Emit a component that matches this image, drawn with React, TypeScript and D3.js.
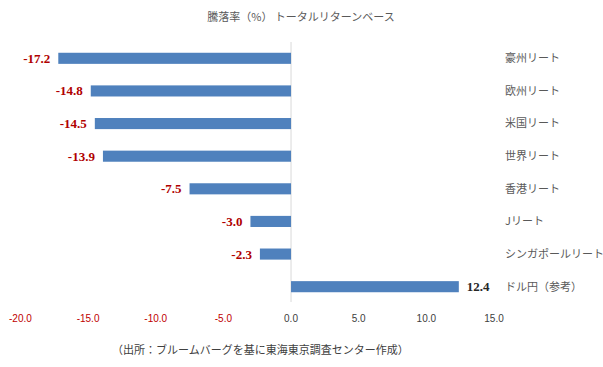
import React from "react";
import * as d3 from "d3";

const categories = ["豪州リート", "欧州リート", "米国リート", "世界リート", "香港リート", "Jリート", "シンガポールリート", "ドル円（参考）"];
const values = [-17.2, -14.8, -14.5, -13.9, -7.5, -3.0, -2.3, 12.4];
const ticks = [-20, -15, -10, -5, 0, 5, 10, 15];
const title = "騰落率（%） トータルリターンベース";
const source = "（出所：ブルームバーグを基に東海東京調査センター作成）";

const W = 603;
const H = 367;
const jp = "'Noto Sans CJK JP', 'Noto Sans', sans-serif";
const serif = "'Liberation Serif', 'Times New Roman', serif";

export default function App() {
  const x = d3.scaleLinear().domain([-20, 15]).range([20.4, 494]);
  const y = d3.scaleBand<string>().domain(categories).range([42, 303]).paddingInner(0.66).paddingOuter(0.33);
  const x0 = x(0);
  return (
    <svg width={W} height={H} style={{ position: "absolute", left: 0, top: 0, background: "#fff" }}>
      <text x={301} y={21} textAnchor="middle" fontFamily={jp} fontSize={11} fill="#595959">{title}</text>
      <line x1={x0} x2={x0} y1={42} y2={302} stroke="#d9d9d9" strokeWidth={1} />
      {categories.map((c, i) => {
        const v = values[i];
        const by = y(c)!;
        const bh = y.bandwidth();
        const xa = x(Math.min(0, v));
        const xb = x(Math.max(0, v));
        const cy = by + bh / 2;
        return (
          <g key={c}>
            <rect x={xa} y={by} width={xb - xa} height={bh} fill="#4f81bd" />
            <text
              x={v < 0 ? xa - 8 : xb + 8}
              y={cy}
              dy="0.35em"
              textAnchor={v < 0 ? "end" : "start"}
              fontFamily={serif}
              fontWeight="bold"
              fontSize={13}
              fill={v < 0 ? "#B00000" : "#262626"}
            >
              {v.toFixed(1)}
            </text>
            <text x={505} y={cy} dy="0.35em" fontFamily={jp} fontSize={11} fill="#595959">{c}</text>
          </g>
        );
      })}
      {ticks.map((t) => (
        <text
          key={t}
          x={x(t)}
          y={322}
          textAnchor="middle"
          fontFamily="'Liberation Sans', Arial, sans-serif"
          fontSize={10}
          fill={t < 0 ? "#C00000" : "#404040"}
        >
          {t.toFixed(1)}
        </text>
      ))}
      <text x={112} y={354} fontFamily={jp} fontSize={11} fill="#404040">{source}</text>
    </svg>
  );
}
